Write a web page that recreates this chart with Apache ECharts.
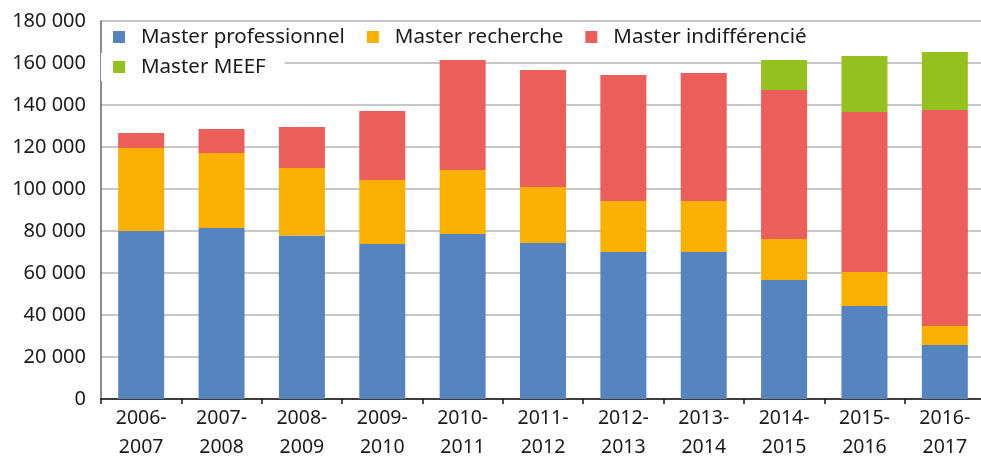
<!DOCTYPE html>
<html>
<head>
<meta charset="utf-8">
<script src="https://cdn.jsdelivr.net/npm/echarts@6/dist/echarts.min.js"></script>
<style>
  html, body { margin: 0; padding: 0; background: #fff; }
  #chart { width: 981px; height: 457px; }
</style>
</head>
<body>
<div id="chart"></div>
<script>
// academic years
const years = ['2006-\n2007', '2007-\n2008', '2008-\n2009', '2009-\n2010', '2010-\n2011', '2011-\n2012',
  '2012-\n2013', '2013-\n2014', '2014-\n2015', '2015-\n2016', '2016-\n2017']

// enrolments per master type
const proValues = [80000, 81400, 77800, 73800, 78600, 74300, 70000, 70000, 56700, 44300, 25700]
const rechercheValues = [39500, 35700, 32200, 30500, 30400, 26700, 24300, 24300, 19500, 16200, 9100]
const indifValues = [7200, 11500, 19500, 32800, 52400, 55700, 60000, 60900, 70900, 76200, 102800]
const meefValues = [null, null, null, null, null, null, null, null, 14300, 26600, 27600]

const seriesNames = ['Master professionnel', 'Master recherche', 'Master indifférencié', 'Master MEEF']
const colors = ['#5584be', '#f9b000', '#ec5e59', '#95c11e']

const FONT = 'Noto Sans'

function fmt (v) {
  return String(v).replace(/\B(?=(\d{3})+(?!\d))/g, ' ')
}

const chart = echarts.init(document.getElementById('chart'), null, { renderer: 'canvas' })

const allData = [proValues, rechercheValues, indifValues, meefValues]
const series = seriesNames.map((name, i) => ({
  name: name,
  type: 'bar',
  stack: 'total',
  barWidth: 46,
  itemStyle: { color: colors[i] },
  data: allData[i],
  animation: false
}))

const legendText = {
  fontFamily: FONT,
  fontSize: 20.5,
  lineHeight: 22,
  color: '#1a1a1a',
  padding: [0, 0, 0, 11]
}

chart.setOption({
  animation: false,
  color: colors,
  grid: {
    left: 101,
    top: 21,
    width: 884,
    bottom: 58,
    containLabel: false,
    outerBoundsMode: 'none'
  },
  legend: [
    {
      data: seriesNames.slice(0, 3),
      left: 113,
      top: 26,
      itemWidth: 12,
      itemHeight: 12,
      itemGap: 22,
      icon: 'rect',
      textStyle: legendText,
      padding: 0
    },
    {
      data: [seriesNames[3]],
      left: 101,
      top: 53,
      itemWidth: 12,
      itemHeight: 12,
      icon: 'rect',
      backgroundColor: '#fff',
      textStyle: legendText,
      padding: [3, 19, 3, 12]
    }
  ],
  xAxis: {
    type: 'category',
    data: years,
    axisLine: { lineStyle: { color: '#111', width: 1.5 } },
    axisTick: { show: true, length: 5, lineStyle: { color: '#111', width: 1.5 } },
    axisLabel: {
      fontFamily: FONT,
      fontSize: 19.5,
      color: '#1a1a1a',
      lineHeight: 29,
      margin: 5,
      interval: 0
    }
  },
  yAxis: {
    type: 'value',
    min: 0,
    max: 180000,
    interval: 20000,
    axisLine: { show: true, lineStyle: { color: '#666', width: 1.5 } },
    axisTick: { show: false },
    splitLine: { lineStyle: { color: '#b5b5b5', width: 1.5 } },
    axisLabel: {
      fontFamily: FONT,
      fontSize: 20,
      color: '#1a1a1a',
      margin: 15,
      formatter: fmt
    }
  },
  series: series
})
</script>
</body>
</html>
